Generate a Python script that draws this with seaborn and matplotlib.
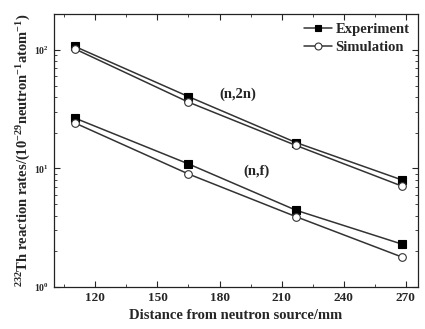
import numpy as np
import pandas as pd
import matplotlib
matplotlib.use('Agg')
import matplotlib.pyplot as plt
import seaborn as sns
from matplotlib.ticker import LogLocator, MultipleLocator, NullFormatter

# DATA
distance = [110, 165, 217, 268]
exp_n2n = [107, 40.3, 16.5, 8.0]
sim_n2n = [102, 36.2, 15.6, 7.1]
exp_nf = [26.6, 10.9, 4.43, 2.30]
sim_nf = [24.2, 8.96, 3.91, 1.79]

sns.set_style('ticks')
plt.rcParams['font.family'] = ['Liberation Serif', 'DejaVu Serif']
plt.rcParams['font.weight'] = 'bold'
plt.rcParams['mathtext.fontset'] = 'custom'
plt.rcParams['mathtext.rm'] = 'Liberation Serif:bold'
plt.rcParams['mathtext.it'] = 'Liberation Serif:bold'
plt.rcParams['mathtext.bf'] = 'Liberation Serif:bold'
plt.rcParams['mathtext.default'] = 'rm'

rows = []
for reaction, e, s in [('(n,2n)', exp_n2n, sim_n2n), ('(n,f)', exp_nf, sim_nf)]:
    for d, v in zip(distance, e):
        rows.append({'Distance': d, 'Rate': v, 'Source': 'Experiment', 'Reaction': reaction})
    for d, v in zip(distance, s):
        rows.append({'Distance': d, 'Rate': v, 'Source': 'Simulation', 'Reaction': reaction})
df = pd.DataFrame(rows)

fig, ax = plt.subplots(figsize=(4.25, 3.29), dpi=100)
fig.subplots_adjust(left=0.127, right=0.984, top=0.957, bottom=0.128)

line_color = '#333333'
styles = {
    'Experiment': dict(marker='s', markerfacecolor='black', markeredgecolor='black'),
    'Simulation': dict(marker='o', markerfacecolor='white', markeredgecolor='#333333'),
}
for reaction in ['(n,2n)', '(n,f)']:
    for source in ['Experiment', 'Simulation']:
        sub = df[(df['Reaction'] == reaction) & (df['Source'] == source)]
        sns.lineplot(data=sub, x='Distance', y='Rate', ax=ax, color=line_color,
                     linewidth=1.1, markersize=5.5, markeredgewidth=0.8,
                     label=source if reaction == '(n,2n)' else None,
                     **styles[source])

ax.set_yscale('log')
ax.set_xlim(100, 276)
ax.set_ylim(1, 200)
ax.xaxis.set_major_locator(MultipleLocator(30))
ax.xaxis.set_minor_locator(MultipleLocator(15))
ax.yaxis.set_major_locator(LogLocator(base=10, numticks=10))
ax.yaxis.set_minor_locator(LogLocator(base=10, subs=np.arange(2, 10), numticks=10))
ax.yaxis.set_minor_formatter(NullFormatter())
ax.tick_params(which='both', direction='in', top=True, right=True, labelsize=9.5)
ax.tick_params(which='major', length=4, width=0.8)
ax.tick_params(which='minor', length=2, width=0.6)
ax.tick_params(axis='y', which='major', labelsize=7)
for sp in ax.spines.values():
    sp.set_linewidth(0.9)
    sp.set_color('#222222')

ax.text(189, 42, '(n,2n)', ha='center', va='center', fontsize=10.5, fontweight='bold')
ax.text(198, 9.4, '(n,f)', ha='center', va='center', fontsize=10.5, fontweight='bold')

ax.set_xlabel('Distance from neutron source/mm', fontsize=10.5, fontweight='bold')
ax.set_ylabel(r'$^{232}$Th reaction rates/(10$^{-29}$neutron$^{-1}$atom$^{-1}$)',
              fontsize=10.5, fontweight='bold', labelpad=1)

leg = ax.legend(loc='upper right', frameon=False, fontsize=10.5, handlelength=1.9,
                handletextpad=0.25, labelspacing=0.3, borderaxespad=0.2)
for h in leg.legend_handles:
    h.set_markersize(5)
for t in leg.get_texts():
    t.set_fontweight('bold')

fig.savefig('out.png', dpi=100)
